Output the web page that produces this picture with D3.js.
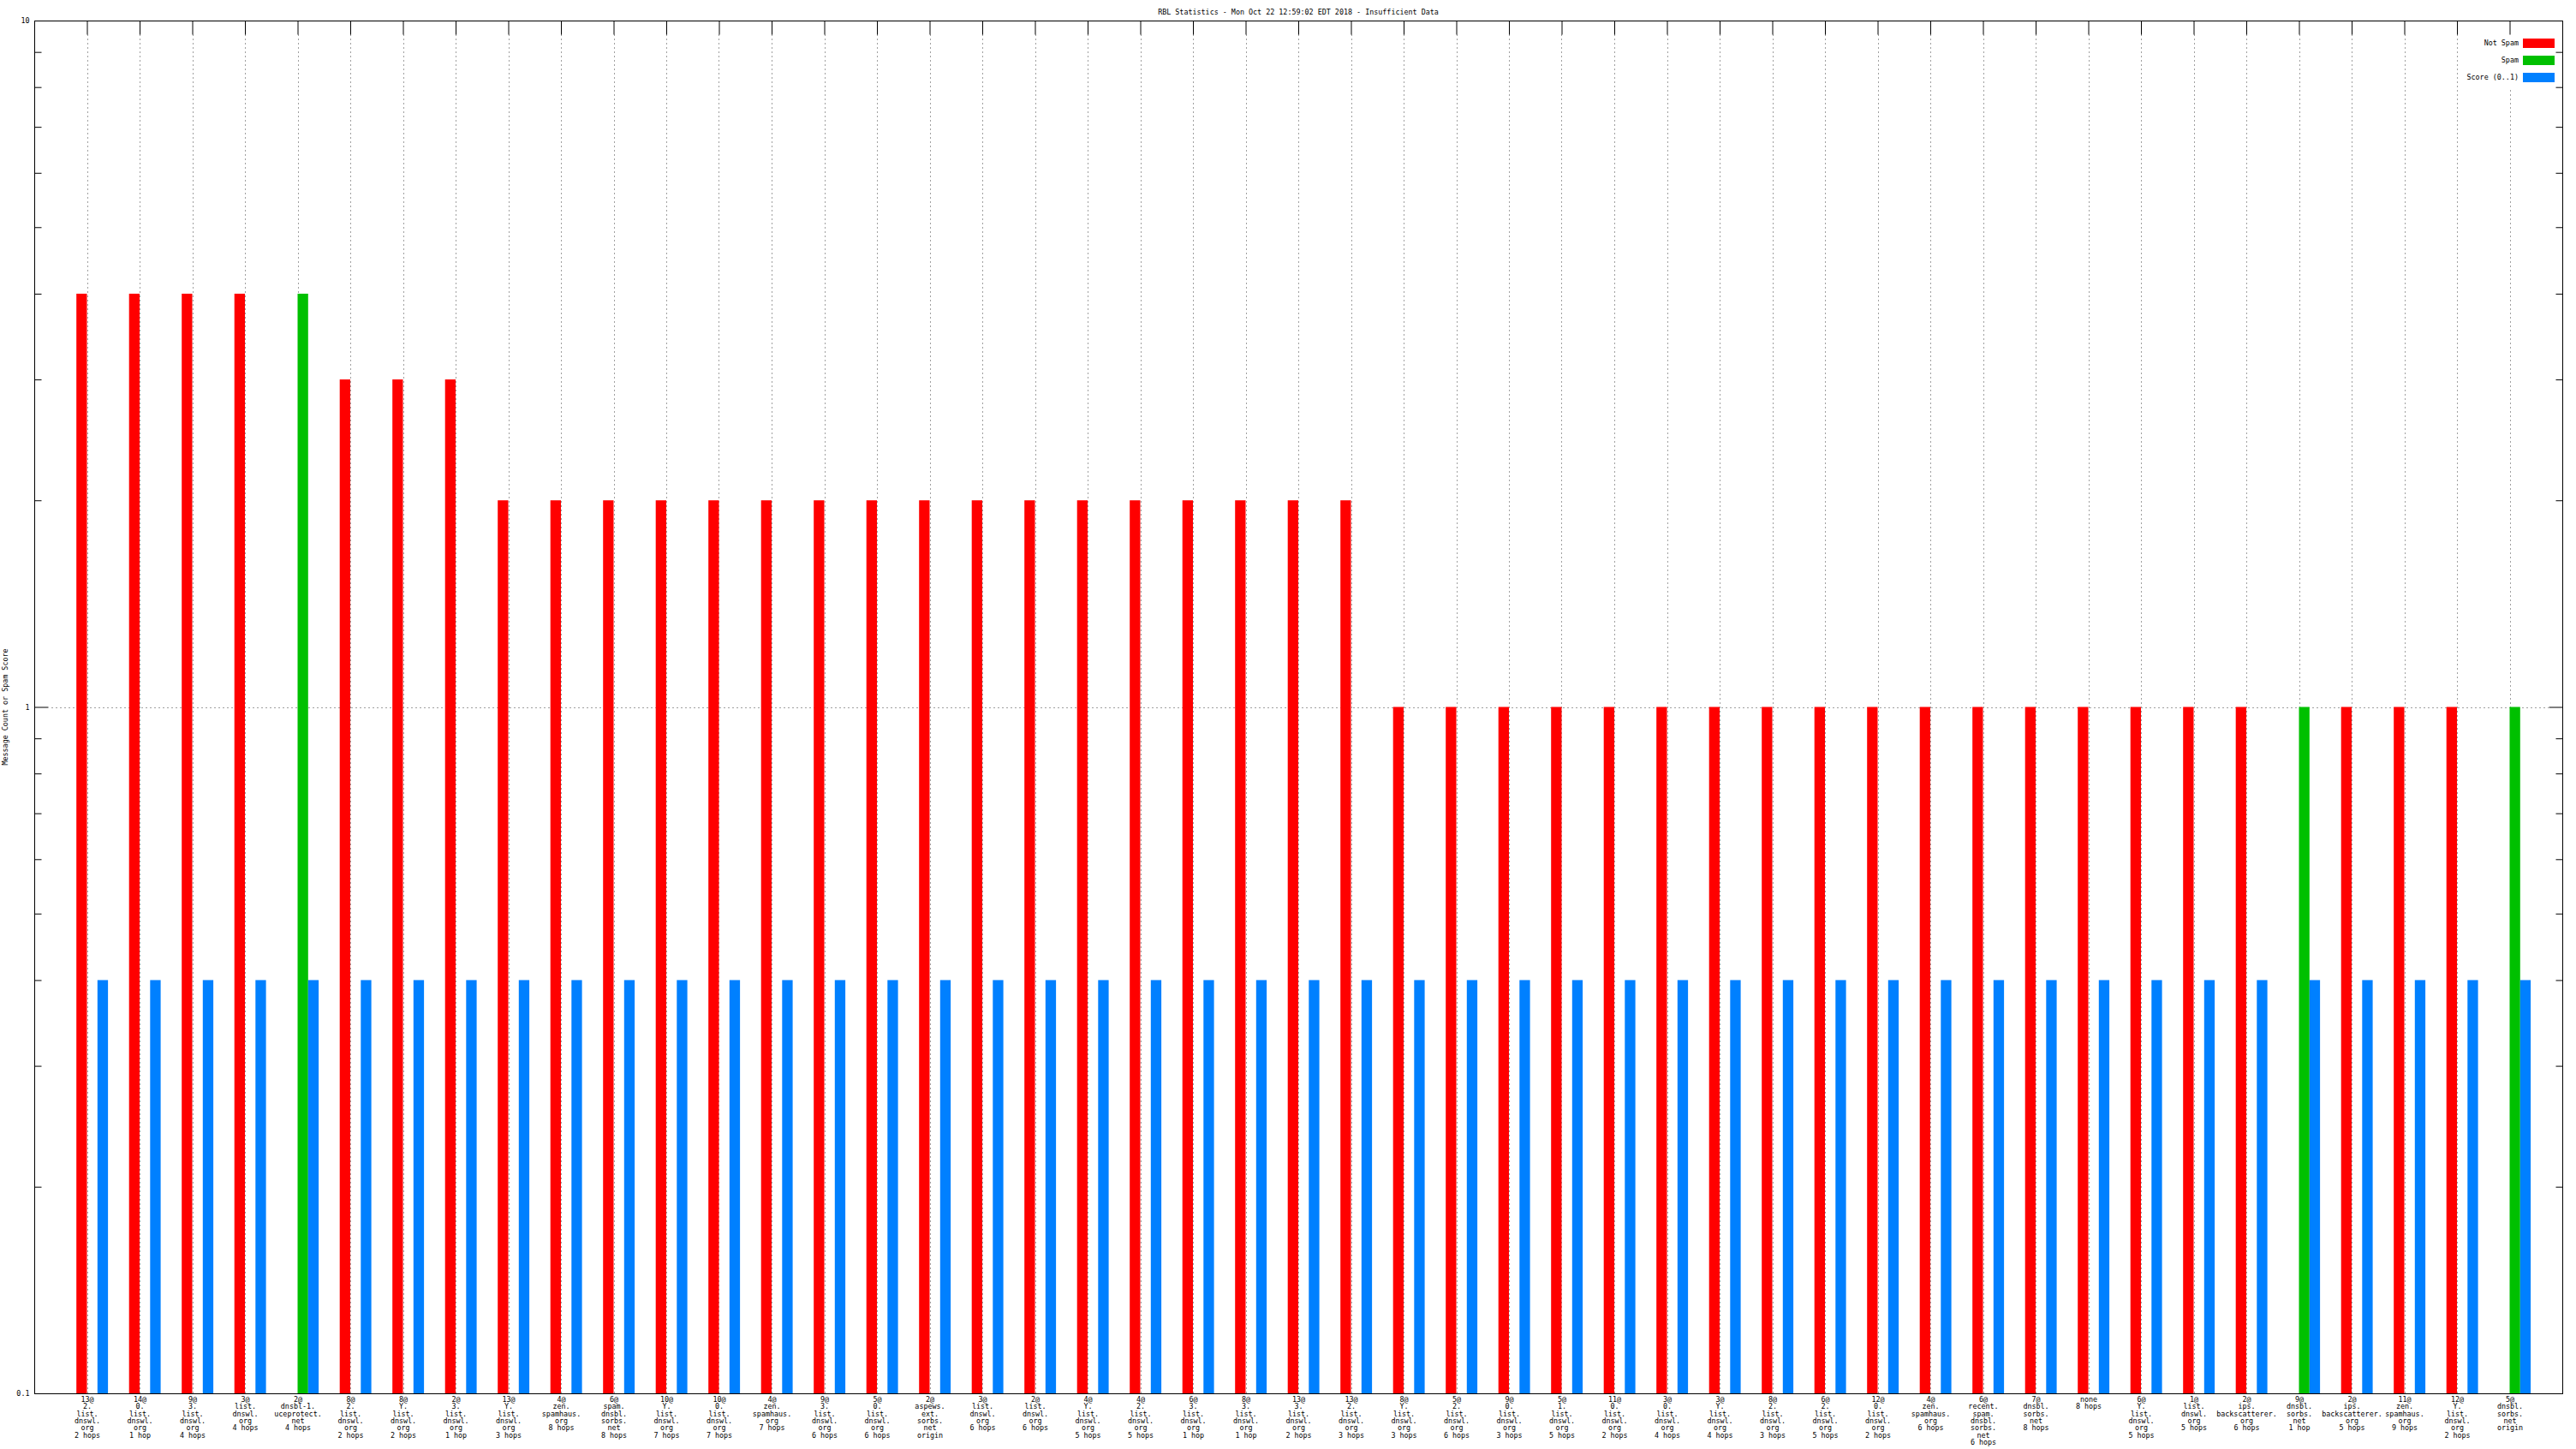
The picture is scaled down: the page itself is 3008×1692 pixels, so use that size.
<!DOCTYPE html>
<html>
<head>
<meta charset="utf-8">
<script src="https://cdn.jsdelivr.net/npm/d3@7"></script>
<style>
  html, body { margin: 0; padding: 0; background: #fff; }
  text { font-family: "DejaVu Sans Mono", "Liberation Mono", monospace; font-size: 8.4px; fill: #000; }
</style>
</head>
<body>
<svg id="chart" width="3008" height="1692"></svg>
<script>
// ---------- data ----------
const title = "RBL Statistics - Mon Oct 22 12:59:02 EDT 2018 - Insufficient Data";
const yTitle = "Message Count or Spam Score";
const seriesNames = ["Not Spam", "Spam", "Score (0..1)"];
const seriesColors = ["#ff0000", "#00c000", "#0080ff"];

const categories = [
  "13@\n2.\nlist.\ndnswl.\norg\n2 hops",
  "14@\n0.\nlist.\ndnswl.\norg\n1 hop",
  "9@\n3.\nlist.\ndnswl.\norg\n4 hops",
  "3@\nlist.\ndnswl.\norg\n4 hops",
  "2@\ndnsbl-1.\nuceprotect.\nnet\n4 hops",
  "8@\n2.\nlist.\ndnswl.\norg\n2 hops",
  "8@\nY.\nlist.\ndnswl.\norg\n2 hops",
  "2@\n3.\nlist.\ndnswl.\norg\n1 hop",
  "13@\nY.\nlist.\ndnswl.\norg\n3 hops",
  "4@\nzen.\nspamhaus.\norg\n8 hops",
  "6@\nspam.\ndnsbl.\nsorbs.\nnet\n8 hops",
  "10@\nY.\nlist.\ndnswl.\norg\n7 hops",
  "10@\n0.\nlist.\ndnswl.\norg\n7 hops",
  "4@\nzen.\nspamhaus.\norg\n7 hops",
  "9@\n3.\nlist.\ndnswl.\norg\n6 hops",
  "5@\n0.\nlist.\ndnswl.\norg\n6 hops",
  "2@\naspews.\next.\nsorbs.\nnet\norigin",
  "3@\nlist.\ndnswl.\norg\n6 hops",
  "2@\nlist.\ndnswl.\norg\n6 hops",
  "4@\nY.\nlist.\ndnswl.\norg\n5 hops",
  "4@\n2.\nlist.\ndnswl.\norg\n5 hops",
  "6@\n3.\nlist.\ndnswl.\norg\n1 hop",
  "8@\n3.\nlist.\ndnswl.\norg\n1 hop",
  "13@\n3.\nlist.\ndnswl.\norg\n2 hops",
  "13@\n2.\nlist.\ndnswl.\norg\n3 hops",
  "8@\nY.\nlist.\ndnswl.\norg\n3 hops",
  "5@\n2.\nlist.\ndnswl.\norg\n6 hops",
  "9@\n0.\nlist.\ndnswl.\norg\n3 hops",
  "5@\n1.\nlist.\ndnswl.\norg\n5 hops",
  "11@\n0.\nlist.\ndnswl.\norg\n2 hops",
  "3@\n0.\nlist.\ndnswl.\norg\n4 hops",
  "3@\nY.\nlist.\ndnswl.\norg\n4 hops",
  "8@\n2.\nlist.\ndnswl.\norg\n3 hops",
  "6@\n2.\nlist.\ndnswl.\norg\n5 hops",
  "12@\n0.\nlist.\ndnswl.\norg\n2 hops",
  "4@\nzen.\nspamhaus.\norg\n6 hops",
  "6@\nrecent.\nspam.\ndnsbl.\nsorbs.\nnet\n6 hops",
  "7@\ndnsbl.\nsorbs.\nnet\n8 hops",
  "none\n8 hops",
  "6@\nY.\nlist.\ndnswl.\norg\n5 hops",
  "1@\nlist.\ndnswl.\norg\n5 hops",
  "2@\nips.\nbackscatterer.\norg\n6 hops",
  "9@\ndnsbl.\nsorbs.\nnet\n1 hop",
  "2@\nips.\nbackscatterer.\norg\n5 hops",
  "11@\nzen.\nspamhaus.\norg\n9 hops",
  "12@\nY.\nlist.\ndnswl.\norg\n2 hops",
  "5@\ndnsbl.\nsorbs.\nnet\norigin"
];

const notSpam = [4,4,4,4,0,3,3,3,
  2,2,2,2,2,2,2,2,2,2,2,2,2,2,2,2,2,
  1,1,1,1,1,1,1,1,1,1,1,1,1,1,1,1,1,
  0,1,1,1,0];
const spam = [0,0,0,0,4,0,0,0,
  0,0,0,0,0,0,0,0,0,0,0,0,0,0,0,0,0,
  0,0,0,0,0,0,0,0,0,0,0,0,0,0,0,0,0,
  1,0,0,0,1];
const score = [0.4,0.4,0.4,0.4,0.4,0.4,0.4,0.4,
  0.4,0.4,0.4,0.4,0.4,0.4,0.4,0.4,0.4,0.4,0.4,0.4,0.4,0.4,0.4,0.4,0.4,
  0.4,0.4,0.4,0.4,0.4,0.4,0.4,0.4,0.4,0.4,0.4,0.4,0.4,0.4,0.4,0.4,0.4,
  0.4,0.4,0.4,0.4,0.4];

const yMajorTicks = [0.1, 1, 10];
const yTickLabels = ["0.1", "1", "10"];

// ---------- layout ----------
const L = 40, R = 2992, T = 24, B = 1627;
const svg = d3.select("#chart");

const x = d3.scaleLinear().domain([-1, categories.length]).range([L, R]);
const y = d3.scaleLog().domain([0.1, 10]).range([B, T]);

const yMinor = [];
[0.1, 1].forEach(d => { for (let k = 2; k <= 9; k++) yMinor.push(+(d * k).toFixed(3)); });

// grid
const grid = svg.append("g").attr("stroke", "#a0a0a0").attr("stroke-dasharray", "2,3").attr("stroke-width", 1);
grid.selectAll("line.v").data(d3.range(categories.length)).enter().append("line")
  .attr("x1", d => Math.round(x(d)) + 0.5).attr("x2", d => Math.round(x(d)) + 0.5)
  .attr("y1", T + 16).attr("y2", B);
grid.append("line").attr("x1", L + 20).attr("x2", R - 16)
  .attr("y1", Math.round(y(1)) + 0.5).attr("y2", Math.round(y(1)) + 0.5);

// legend background
svg.append("rect").attr("x", 2874).attr("y", 40).attr("width", 118).attr("height", 64).attr("fill", "#fff");

// bars
const slot = 0.2;
const series = [
  { vals: notSpam, off: -slot, color: seriesColors[0] },
  { vals: spam, off: 0, color: seriesColors[1] },
  { vals: score, off: slot, color: seriesColors[2] }
];
const bars = svg.append("g");
series.forEach(s => {
  bars.selectAll(null).data(s.vals.map((v, i) => ({ v, i })).filter(d => d.v > 0)).enter().append("rect")
    .attr("x", d => x(d.i + s.off))
    .attr("width", d => x(d.i + s.off + slot) - x(d.i + s.off))
    .attr("y", d => y(d.v))
    .attr("height", d => B - y(d.v))
    .attr("fill", s.color);
});

// axes
function styleAxis(g) {
  g.select(".domain").remove();
  g.selectAll(".tick line").attr("stroke", "#000").attr("stroke-width", 1);
  g.selectAll("text").attr("font-family", null).attr("font-size", null);
}
// left
svg.append("g").attr("transform", `translate(${L + 0.5},0)`)
  .call(d3.axisLeft(y).tickValues(yMajorTicks).tickSize(-16).tickPadding(6)
    .tickFormat((d, i) => yTickLabels[i]))
  .call(styleAxis);
svg.append("g").attr("transform", `translate(${L + 0.5},0)`)
  .call(d3.axisLeft(y).tickValues(yMinor).tickSize(-8).tickFormat(""))
  .call(styleAxis);
// right
svg.append("g").attr("transform", `translate(${R + 0.5},0)`)
  .call(d3.axisRight(y).tickValues(yMajorTicks).tickSize(-16).tickFormat(""))
  .call(styleAxis);
svg.append("g").attr("transform", `translate(${R + 0.5},0)`)
  .call(d3.axisRight(y).tickValues(yMinor).tickSize(-8).tickFormat(""))
  .call(styleAxis);
// top
svg.append("g").attr("transform", `translate(0,${T + 0.5})`)
  .call(d3.axisTop(x).tickValues(d3.range(categories.length)).tickSize(-16).tickFormat(""))
  .call(styleAxis);
// bottom with multi-line labels
const xb = svg.append("g").attr("transform", `translate(0,${B + 0.5})`)
  .call(d3.axisBottom(x).tickValues(d3.range(categories.length)).tickSize(0).tickFormat(""))
  .call(styleAxis);
xb.selectAll(".tick").each(function (d) {
  const t = d3.select(this).select("text").attr("y", 0).attr("dy", null).attr("text-anchor", "middle");
  categories[d].split("\n").forEach((ln, k) => {
    t.append("tspan").attr("x", 0).attr("y", 9.5 + k * 8.3).text(ln);
  });
});

// border
svg.append("rect").attr("x", L + 0.5).attr("y", T + 0.5).attr("width", R - L).attr("height", B - T)
  .attr("fill", "none").attr("stroke", "#000").attr("stroke-width", 1);

// title
svg.append("text").attr("x", (L + R) / 2).attr("y", 17).attr("text-anchor", "middle").text(title);
// y title
svg.append("text").attr("transform", `translate(9,${(T + B) / 2}) rotate(-90)`)
  .attr("text-anchor", "middle").text(yTitle);

// legend
const lg = svg.append("g");
seriesNames.forEach((n, i) => {
  const cy = 50.5 + i * 20;
  lg.append("text").attr("x", 2941).attr("y", cy).attr("dy", "0.32em").attr("text-anchor", "end").text(n);
  lg.append("rect").attr("x", 2946).attr("y", cy - 5.5).attr("width", 37).attr("height", 11).attr("fill", seriesColors[i]);
});
</script>
</body>
</html>
